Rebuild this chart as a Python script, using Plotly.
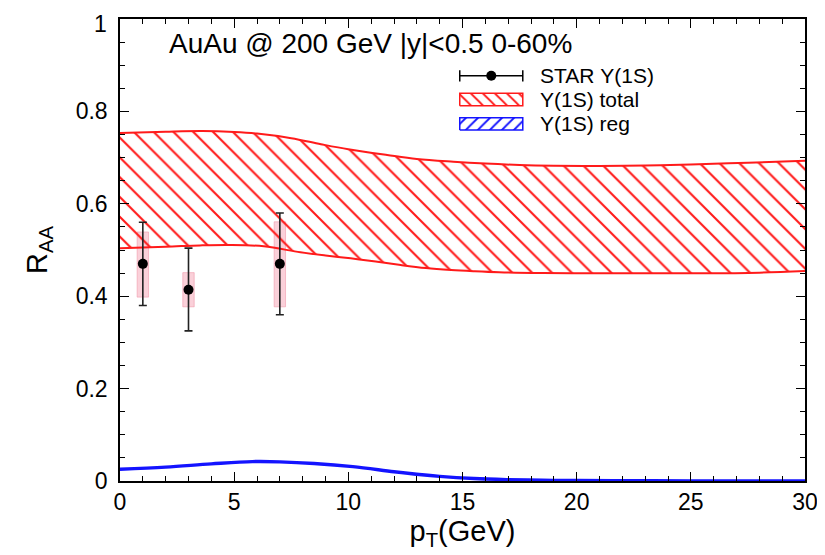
import plotly.graph_objects as go

# ---------------- data ----------------
# Model band: Upsilon(1S) total (upper / lower edges)
hi_pt = [0, 2, 3.6, 5, 6, 7.5, 8.8, 10, 11.7, 13, 14.6, 16, 17.5, 19, 21, 23, 25, 27.5, 30]
total_hi = [0.753, 0.756, 0.7575, 0.7555, 0.752, 0.742, 0.729, 0.718, 0.7056, 0.697, 0.691, 0.687, 0.684, 0.6825, 0.682, 0.683, 0.685, 0.689, 0.693]
lo_pt = [0, 2, 3.5, 4.8, 6.3, 7.9, 9, 10.1, 11.2, 12.3, 13.4, 14.5, 15.5, 16.6, 18.5, 21, 23, 25.4, 28, 30]
total_lo = [0.504, 0.507, 0.510, 0.511, 0.508, 0.495, 0.488, 0.482, 0.475, 0.4675, 0.461, 0.4567, 0.454, 0.4517, 0.450, 0.4495, 0.4495, 0.4495, 0.451, 0.4545]

# Model band: Upsilon(1S) regeneration
reg_pt = [0, 2, 4, 5.8, 7, 8.5, 10.2, 12, 13.1, 14, 15.5, 17, 18.5, 20, 22.5, 25, 30]
reg_hi = [0.027, 0.0315, 0.0385, 0.0435, 0.043, 0.0395, 0.0325, 0.0215, 0.0155, 0.0115, 0.007, 0.0045, 0.003, 0.0025, 0.002, 0.0018, 0.0017]
reg_lo = [0.024, 0.0285, 0.0355, 0.0405, 0.040, 0.0365, 0.0295, 0.0185, 0.0125, 0.0085, 0.004, 0.0015, 0.0005, 0.0002, 0.0001, 0.0001, 0.0001]

# STAR data
star_pt = [1.0, 3.0, 7.0]
star_raa = [0.47, 0.414, 0.47]
stat_up = [0.09, 0.09, 0.11]
stat_dn = [0.09, 0.089, 0.11]
sys_hi = [0.539, 0.451, 0.561]
sys_lo = [0.398, 0.377, 0.377]

# tick labels
y_tickvals = [0, 0.2, 0.4, 0.6, 0.8, 1]
y_ticktext = ["0", "0.2", "0.4", "0.6", "0.8", ""]   # "1" drawn as annotation below
y_top_label = "1"

legend_names = ["STAR Υ(1S)", "Υ(1S) total", "Υ(1S) reg"]
title_text = "AuAu @ 200 GeV |y|<0.5 0-60%"

# ---------------- styling / layout constants ----------------
RED = "#ff1a1a"
BLUE = "#1414ff"
FONT = "Liberation Sans, Arial, sans-serif"
# legend glyph geometry in plot-area fractions
LG_X0, LG_X1 = 0.496, 0.588
LG_TXT_X = 0.610
LG_ROWS = [0.877, 0.826, 0.773]
LG_HALF_H = 0.0135

fig = go.Figure()

# systematic boxes
fig.add_trace(go.Bar(
    x=star_pt, y=[h - l for h, l in zip(sys_hi, sys_lo)], base=sys_lo, width=0.5,
    marker=dict(color="rgba(245,150,170,0.45)", line=dict(color="rgba(240,140,160,0.5)", width=1)),
    showlegend=False, hoverinfo="skip"))

# total band
fig.add_trace(go.Scatter(
    x=lo_pt, y=total_lo, mode="lines", line=dict(color=RED, width=2, shape="spline"),
    showlegend=False))
fig.add_trace(go.Scatter(
    x=hi_pt, y=total_hi, mode="lines", line=dict(color=RED, width=2, shape="spline"),
    fill="tonexty", fillcolor="rgba(0,0,0,0)",
    fillpattern=dict(shape="\\", fgcolor=RED, fgopacity=1, bgcolor="rgba(255,255,255,0)",
                     size=14, solidity=0.15),
    showlegend=False))

# regeneration band
fig.add_trace(go.Scatter(
    x=reg_pt, y=reg_lo, mode="lines",
    line=dict(color=BLUE, width=2, shape="spline"), showlegend=False))
fig.add_trace(go.Scatter(
    x=reg_pt, y=reg_hi, mode="lines",
    line=dict(color=BLUE, width=2, shape="spline"),
    fill="tonexty", fillcolor=BLUE, showlegend=False))

# STAR points
fig.add_trace(go.Scatter(
    x=star_pt, y=star_raa, mode="markers",
    marker=dict(color="black", size=10),
    error_y=dict(type="data", symmetric=False, array=stat_up, arrayminus=stat_dn,
                 color="#222222", thickness=1.6, width=4),
    showlegend=False))

# ---------------- custom legend on an invisible overlay axis ----------------
xm = (LG_X0 + LG_X1) / 2
fig.add_trace(go.Scatter(
    x=[LG_X0, LG_X1], y=[LG_ROWS[0]] * 2, xaxis="x2", yaxis="y2", mode="lines+markers",
    line=dict(color="black", width=1.5),
    marker=dict(symbol="line-ns", size=8, line=dict(color="black", width=1.5)),
    showlegend=False, hoverinfo="skip"))
fig.add_trace(go.Scatter(
    x=[xm], y=[LG_ROWS[0]], xaxis="x2", yaxis="y2", mode="markers",
    marker=dict(color="black", size=10), showlegend=False, hoverinfo="skip"))
for row, col, shp in [(LG_ROWS[1], RED, "\\"), (LG_ROWS[2], BLUE, "/")]:
    fig.add_trace(go.Scatter(
        x=[LG_X0, LG_X1, LG_X1, LG_X0, LG_X0],
        y=[row - LG_HALF_H, row - LG_HALF_H, row + LG_HALF_H, row + LG_HALF_H, row - LG_HALF_H],
        xaxis="x2", yaxis="y2", mode="lines", line=dict(color=col, width=1.5),
        fill="toself", fillcolor="rgba(0,0,0,0)",
        fillpattern=dict(shape=shp, fgcolor=col, fgopacity=1, bgcolor="rgba(255,255,255,0)",
                         size=8.5, solidity=0.22),
        showlegend=False, hoverinfo="skip"))

for name, row in zip(legend_names, LG_ROWS):
    fig.add_annotation(x=LG_TXT_X, y=row, xref="paper", yref="paper",
                       xanchor="left", yanchor="middle", text=name, showarrow=False,
                       font=dict(size=21, color="black"))

fig.add_annotation(
    x=0.069, y=0.946, xref="paper", yref="paper", xanchor="left", yanchor="middle",
    text=title_text, showarrow=False, font=dict(size=28, color="black"))

# top y tick label, kept inside the page
fig.add_annotation(
    x=0, y=1, xref="paper", yref="paper", xanchor="right", yanchor="top",
    xshift=-11, yshift=10, text=y_top_label, showarrow=False,
    font=dict(size=23, color="black"))

axis_common = dict(
    showgrid=False, zeroline=False, showline=True, linecolor="black", linewidth=1.5,
    mirror="ticks", ticks="inside", ticklen=9, tickwidth=1.2, tickcolor="black",
    tickfont=dict(size=23, color="black"), automargin=False,
)

fig.update_xaxes(
    range=[0, 30], dtick=5, tick0=0,
    minor=dict(ticks="inside", ticklen=5, dtick=1, tickcolor="black", tickwidth=1),
    title=dict(text="p<sub>T</sub>(GeV)", font=dict(size=29, color="black"), standoff=6),
    **axis_common)
fig.update_yaxes(
    range=[0, 1], tickmode="array", tickvals=y_tickvals, ticktext=y_ticktext,
    minor=dict(ticks="inside", ticklen=5, dtick=0.05, tick0=0, tickcolor="black", tickwidth=1),
    title=dict(text="R<sub>AA</sub>", font=dict(size=29, color="black"), standoff=20),
    ticklabelstandoff=6,
    **axis_common)

fig.update_layout(
    xaxis2=dict(overlaying="x", range=[0, 1], visible=False, fixedrange=True),
    yaxis2=dict(overlaying="y", range=[0, 1], visible=False, fixedrange=True),
    width=817, height=547,
    margin=dict(l=112, r=20, t=11, b=74, autoexpand=False),
    paper_bgcolor="white", plot_bgcolor="white",
    font=dict(family=FONT, color="black"),
    showlegend=False,
    barmode="overlay",
)

fig.write_html("out.html")
